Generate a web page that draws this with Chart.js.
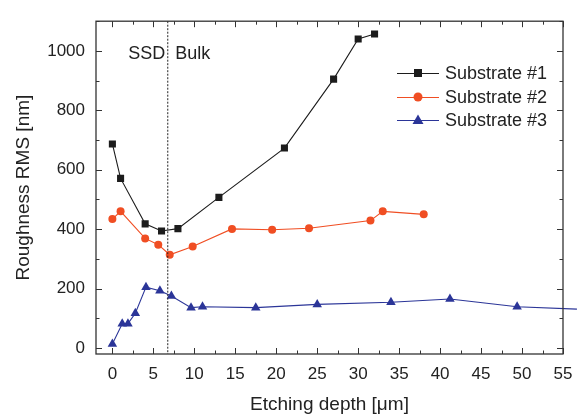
<!DOCTYPE html>
<html>
<head>
<meta charset="utf-8">
<script src="https://cdn.jsdelivr.net/npm/chart.js@4"></script>
<style>
  html, body { margin: 0; padding: 0; background: #fff; }
  #wrap { width: 583px; height: 416px; }
</style>
</head>
<body>
<div id="wrap"><canvas id="chart" width="583" height="416"></canvas></div>
<script>
// datos
const depth1 = [0, 1, 4, 6, 8, 13, 21, 27, 30, 32];
const rms1 = [687, 571, 418, 394, 402, 507, 673, 905, 1040, 1057];

const depth2 = [0, 1, 4, 5.6, 7, 9.8, 14.6, 19.5, 24, 31.5, 33, 38];
const rms2 = [434, 460, 369, 348, 314, 342, 401, 398, 403, 429, 460, 450];

const depth3 = [0, 1.2, 1.9, 2.8, 4.1, 5.8, 7.2, 9.6, 11, 17.5, 25, 34, 41.2, 49.4, 56.7];
const rms3 = [14, 82, 82, 117, 205, 193, 175, 136, 139, 136, 147, 154, 165, 139, 131];

const seriesNames = ["Substrate #1", "Substrate #2", "Substrate #3"];
const xTicks = [0, 5, 10, 15, 20, 25, 30, 35, 40, 45, 50, 55];
const yTicks = [0, 200, 400, 600, 800, 1000];
const ssdBoundary = 6.7;
const regionLabels = ["SSD", "Bulk"];

const colors = ["#1c1c1c", "#f04e23", "#2b3598"];
const FONT = "Arial, 'Liberation Sans', sans-serif";

function toPoints(xs, ys) {
  return xs.map((x, i) => ({ x: x, y: ys[i] }));
}

// marcas hacia adentro, marco, linea punteada, textos y leyenda
const decor = {
  id: "decor",
  afterDatasetsDraw(chart) {
    const ctx = chart.ctx;
    const a = chart.chartArea;
    const xs = chart.scales.x;
    const ys = chart.scales.y;
    ctx.save();

    // linea punteada SSD / Bulk
    const bx = xs.getPixelForValue(ssdBoundary);
    ctx.strokeStyle = "#222";
    ctx.lineWidth = 1;
    ctx.setLineDash([2, 1.5]);
    ctx.beginPath();
    ctx.moveTo(bx + 0.5, a.top);
    ctx.lineTo(bx + 0.5, a.bottom);
    ctx.stroke();
    ctx.setLineDash([]);

    ctx.font = "18px " + FONT;
    ctx.fillStyle = "#222";
    ctx.textBaseline = "alphabetic";
    ctx.textAlign = "right";
    ctx.fillText(regionLabels[0], bx - 2, 59);
    ctx.textAlign = "left";
    ctx.fillText(regionLabels[1], bx + 8, 59);

    // marco
    ctx.strokeStyle = "#333";
    ctx.lineWidth = 1.3;
    ctx.strokeRect(a.left, a.top, a.right - a.left, a.bottom - a.top);

    // ticks
    ctx.lineWidth = 1;
    const major = 6, minor = 3.5;
    for (let v = 0; v <= 55; v += 2.5) {
      const px = Math.round(xs.getPixelForValue(v)) + 0.5;
      const len = v % 5 === 0 ? major : minor;
      ctx.beginPath();
      ctx.moveTo(px, a.bottom); ctx.lineTo(px, a.bottom - len);
      ctx.moveTo(px, a.top); ctx.lineTo(px, a.top + len);
      ctx.stroke();
    }
    for (let v = 0; v <= 1100; v += 100) {
      const py = Math.round(ys.getPixelForValue(v)) + 0.5;
      const len = v % 200 === 0 ? major : minor;
      ctx.beginPath();
      ctx.moveTo(a.left, py); ctx.lineTo(a.left + len, py);
      ctx.moveTo(a.right, py); ctx.lineTo(a.right - len, py);
      ctx.stroke();
    }

    // leyenda
    const lx0 = 397, lx1 = 439, tx = 445;
    const rows = [73, 97, 120];
    chart.data.datasets.forEach((ds, i) => {
      const y = rows[i];
      ctx.strokeStyle = ds.borderColor;
      ctx.lineWidth = 1;
      ctx.beginPath();
      ctx.moveTo(lx0, y + 0.5); ctx.lineTo(lx1, y + 0.5);
      ctx.stroke();
      const cx = (lx0 + lx1) / 2;
      ctx.fillStyle = ds.backgroundColor;
      ctx.beginPath();
      if (ds.pointStyle === "rect") {
        ctx.rect(cx - 4, y - 4, 8, 8);
      } else if (ds.pointStyle === "circle") {
        ctx.arc(cx, y, 4.5, 0, Math.PI * 2);
      } else {
        ctx.moveTo(cx, y - 5.5);
        ctx.lineTo(cx + 5.5, y + 4);
        ctx.lineTo(cx - 5.5, y + 4);
        ctx.closePath();
      }
      ctx.fill();
      ctx.fillStyle = "#222";
      ctx.font = "18px " + FONT;
      ctx.textAlign = "left";
      ctx.textBaseline = "middle";
      ctx.fillText(ds.label, tx, y + 1);
    });

    ctx.restore();
  }
};

new Chart(document.getElementById("chart"), {
  type: "scatter",
  data: {
    datasets: [
      {
        label: seriesNames[0],
        data: toPoints(depth1, rms1),
        showLine: true,
        borderColor: colors[0],
        backgroundColor: colors[0],
        borderWidth: 1.1,
        pointStyle: "rect",
        pointRadius: 5,
        pointBorderWidth: 0
      },
      {
        label: seriesNames[1],
        data: toPoints(depth2, rms2),
        showLine: true,
        borderColor: colors[1],
        backgroundColor: colors[1],
        borderWidth: 1.1,
        pointStyle: "circle",
        pointRadius: 4,
        pointBorderWidth: 0
      },
      {
        label: seriesNames[2],
        data: toPoints(depth3, rms3),
        showLine: true,
        borderColor: colors[2],
        backgroundColor: colors[2],
        borderWidth: 1.1,
        pointStyle: "triangle",
        pointRadius: depth3.map(d => d > 55 ? 0 : 5.5),
        pointBorderWidth: 0,
        clip: false
      }
    ]
  },
  options: {
    responsive: false,
    animation: false,
    devicePixelRatio: 1,
    layout: { padding: { top: 13, right: 20, left: 0, bottom: 0 } },
    plugins: {
      legend: { display: false },
      tooltip: { enabled: false }
    },
    scales: {
      x: {
        type: "linear",
        min: -2,
        max: 55,
        afterBuildTicks: s => { s.ticks = xTicks.map(v => ({ value: v })); },
        afterFit: s => { s.height = 62; },
        grid: { display: false, drawTicks: false },
        border: { display: false },
        ticks: { color: "#222", padding: 10, font: { family: FONT, size: 17 }, maxRotation: 0, callback: v => String(v) },
        title: { display: true, text: "Etching depth [μm]", color: "#222", padding: 0, font: { family: FONT, size: 19 } }
      },
      y: {
        type: "linear",
        min: -20,
        max: 1100,
        afterBuildTicks: s => { s.ticks = yTicks.map(v => ({ value: v })); },
        afterFit: s => { s.width = 96; },
        grid: { display: false, drawTicks: false },
        border: { display: false },
        ticks: { color: "#222", padding: 11, font: { family: FONT, size: 17 }, callback: v => String(v) },
        title: { display: true, text: "Roughness RMS [nm]", color: "#222", padding: { top: 12, bottom: 0 }, font: { family: FONT, size: 19 } }
      }
    }
  },
  plugins: [decor]
});
</script>
</body>
</html>
